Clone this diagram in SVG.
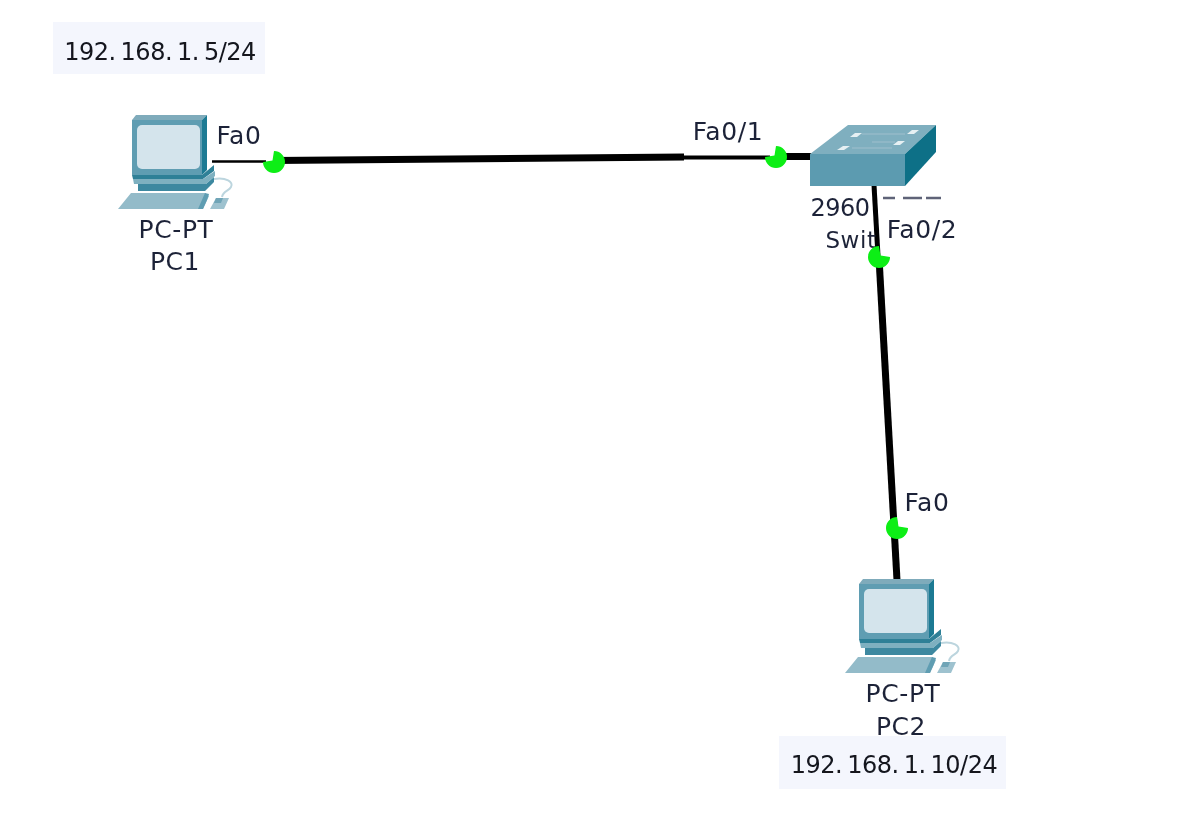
<svg xmlns="http://www.w3.org/2000/svg" width="1178" height="818" viewBox="0 0 1178 818">
<style>
text{font-family:"DejaVu Sans","Liberation Sans",sans-serif;font-size:25px;letter-spacing:.6px;fill:#1e2438;text-anchor:middle;filter:url(#soft)}
.ip{fill:#12141f;font-size:24px;letter-spacing:-.5px}
.num{font-size:24px;letter-spacing:-.5px}
.note{fill:#f4f6fd}
.dot{fill:#08ee12;filter:url(#soft)}
.wire{stroke:#000;fill:none;stroke-linecap:butt}
</style>
<defs>
<filter id="soft" x="-10%" y="-20%" width="120%" height="140%"><feGaussianBlur stdDeviation="0.5"/></filter>
<g id="pc" filter="url(#soft)">
<path d="M132 120L136 115H207L202 120Z" fill="#7fabbb"/>
<path d="M132 120H202V175H132Z" fill="#5f9db2"/>
<path d="M202 120L207 115V170L202 175Z" fill="#1f7a93"/>
<rect x="137" y="125" width="63" height="44" rx="5" fill="#d4e4ec"/>
<path d="M132 175H202L214 165V171L203 179H133Z" fill="#2f8097"/>
<path d="M133 179H203L215 171V176L206 184H134Z" fill="#7eb0c0"/>
<path d="M138 184H206L214 177V182L205 191H138Z" fill="#3c88a0"/>
<path d="M131 193H205L209 196L203 209H118Z" fill="#93bbc9"/>
<path d="M205 193L209 194L207 200L203 209H198Z" fill="#5f9db2"/>
<path d="M210 209L216 198H229L224 209Z" fill="#9ec2cf"/>
<path d="M216 198H223L221 203H214Z" fill="#6fa5b7"/>
<path d="M214 179C226 177 234 182 231 187C229 191 223 191 222 197" fill="none" stroke="#bcd5de" stroke-width="2"/>
</g>
</defs>
<rect width="1178" height="818" fill="#fff"/>
<g id="connectors">
<path class="wire" stroke-width="2.500" d="M212 161.500H266"/>
<path class="wire" stroke-width="7" d="M274 160.500L684 157"/>
<path class="wire" stroke-width="4" d="M684 157.500H770"/>
<path class="wire" stroke-width="7" d="M780 156.500H814"/>
<path class="wire" stroke-width="5" d="M874 185L878 256"/>
<path class="wire" stroke-width="7" d="M879 258L897 580"/>
</g>
<g id="pc1"><use href="#pc"/><text x="176" y="238">PC-PT</text><text x="175" y="270">PC1</text></g>
<g id="pc2"><use href="#pc" transform="translate(727 464)"/><text x="903" y="702">PC-PT</text><text x="901" y="735">PC2</text></g>
<g id="switch">
<g filter="url(#soft)">
<path d="M810 154L848 125H936L905 154Z" fill="#7fafbf"/>
<path d="M810 154H905V186H810Z" fill="#5c9bb0"/>
<path d="M905 154L936 125V152L905 186Z" fill="#0f7087"/>
<path d="M837 150l6-4h7l-6 4ZM850 137l5-4h7l-5 4ZM907 134l5-4h7l-5 4ZM893 145l5-4h7l-5 4Z" fill="#e6f0f3"/>
<path d="M852 148H892M862 134H905M872 142H895" stroke="#8fb7c6" stroke-width="2" fill="none"/>
<path d="M883 198H895M903 198H922M926 198H941" stroke="#5f6478" stroke-width="2.500" fill="none"/>
</g>
<text class="num" x="840" y="216">2960</text><text x="851" y="248" style="font-size:23px">Swit</text>
</g>
<g id="dots">
<path class="dot" d="M274 151A11 11 0 1 1 263 162L272.500 160.500Z"/>
<path class="dot" d="M776 146A11 11 0 1 1 765 157L774.500 155.500Z"/>
<path class="dot" d="M890 257A11 11 0 1 1 879 246L880.500 255.500Z"/>
<path class="dot" d="M908 528A11 11 0 1 1 897 517L898.500 526.500Z"/>
</g>
<g id="port-labels">
<text x="239" y="144">Fa0</text>
<text x="728" y="140">Fa0/1</text>
<text x="922" y="238">Fa0/2</text>
<text x="927" y="511">Fa0</text>
</g>
<g id="note-pc1"><rect class="note" x="53" y="22" width="212" height="52"/><text class="ip" x="160" y="60">192.<tspan dx="5">168.</tspan><tspan dx="5">1.</tspan><tspan dx="5">5/24</tspan></text></g>
<g id="note-pc2"><rect class="note" x="779" y="736" width="227" height="53"/><text class="ip" x="894" y="773">192.<tspan dx="5">168.</tspan><tspan dx="5">1.</tspan><tspan dx="5">10/24</tspan></text></g>
</svg>
